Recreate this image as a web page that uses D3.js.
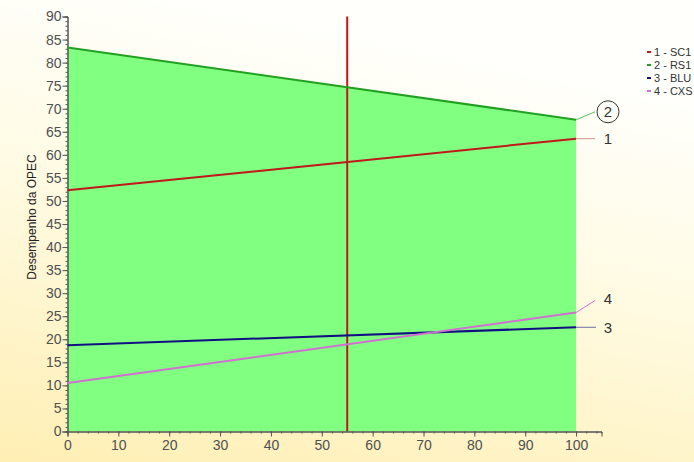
<!DOCTYPE html>
<html lang="en">
<head>
<meta charset="UTF-8">
<title>Desempenho da OPEC</title>
<script src="https://d3js.org/d3.v7.min.js"></script>
<style>
    body { margin: 0; background: #fff; }
    svg { display: block; font-family: Arial, "Liberation Sans", sans-serif; }
</style>
</head>
<body>
<div id="chart"></div>
<script>
    // data
    const xVals = [0, 100];
    const series = [
        { id: "1", name: "SC1", values: [52.3, 63.5], color: "#c01818", leader: "#d09090" },
        { id: "2", name: "RS1", values: [83.3, 67.6], color: "#22a022", leader: "#60c060" },
        { id: "3", name: "BLU", values: [18.7, 22.6], color: "#101080", leader: "#7070a0" },
        { id: "4", name: "CXS", values: [10.5, 25.8], color: "#d070d0", leader: "#d070d0" }
    ];
    const markerX = 55;
    const yTicks = d3.range(0, 91, 5);
    const xTicks = d3.range(0, 101, 10);

    const width = 694, height = 462;
    const svg = d3.select("#chart").append("svg")
        .attr("width", width).attr("height", height);

    const defs = svg.append("defs");
    const grad = defs.append("linearGradient").attr("id", "bg")
        .attr("x1", 0.3).attr("y1", 0).attr("x2", 0).attr("y2", 1);
    grad.append("stop").attr("offset", "0%").attr("stop-color", "#fffffc");
    grad.append("stop").attr("offset", "40%").attr("stop-color", "#fffbe4");
    grad.append("stop").attr("offset", "100%").attr("stop-color", "#ffefb4");
    svg.append("rect").attr("width", width).attr("height", height).attr("fill", "url(#bg)");

    const x = d3.scaleLinear().domain([0, 105]).range([67.5, 601.5]);
    const y = d3.scaleLinear().domain([0, 90]).range([431.5, 16.5]);

    // green area under RS1
    const rs1 = series[1];
    const area = d3.area().x((d, i) => x(xVals[i])).y0(y(0)).y1(d => y(d));
    svg.append("path").datum(rs1.values).attr("d", area).attr("fill", "#80ff80");

    // marker line
    svg.append("line")
        .attr("x1", x(markerX)).attr("x2", x(markerX))
        .attr("y1", y(90)).attr("y2", y(0))
        .attr("stroke", "#c01818").attr("stroke-width", 2);

    // axes
    const gray = "#555";
    const yAxis = svg.append("g").attr("transform", `translate(${x(0)},0)`);
    yAxis.call(d3.axisLeft(y).tickValues(d3.range(0, 91, 1)).tickSize(2).tickFormat(""));
    yAxis.append("g").call(d3.axisLeft(y).tickValues(yTicks).tickSize(5).tickFormat(d3.format("d")));
    const xAxis = svg.append("g").attr("transform", `translate(0,${y(0)})`);
    xAxis.call(d3.axisBottom(x).tickValues(d3.range(0, 105, 2)).tickSize(2).tickFormat(""));
    xAxis.append("g").call(d3.axisBottom(x).tickValues(xTicks).tickSize(5).tickFormat(d3.format("d")));
    svg.selectAll(".domain").attr("stroke", gray);
    svg.selectAll(".tick line").attr("stroke", gray);
    svg.selectAll(".tick text").attr("fill", "#505050").attr("font-size", 14)
        .attr("font-family", "Arial, 'Liberation Sans', sans-serif");
    yAxis.selectAll(".tick text").attr("x", -6);
    xAxis.selectAll(".tick text").attr("y", 9);

    // series lines
    const line = d3.line().x((d, i) => x(xVals[i])).y(d => y(d));
    series.forEach(s => {
        svg.append("path").datum(s.values).attr("d", line)
            .attr("fill", "none").attr("stroke", s.color).attr("stroke-width", 2);
    });

    // end labels with leader lines (offsets in pixels)
    const labelPos = { "1": [595, 0], "2": [595, -8], "3": [596, 0], "4": [595, -12] };
    series.forEach(s => {
        const ex = x(100), ey = y(s.values[1]);
        const [lx, dy] = labelPos[s.id];
        svg.append("line").attr("x1", ex).attr("y1", ey).attr("x2", lx).attr("y2", ey + dy)
            .attr("stroke", s.leader).attr("stroke-width", 1);
        const tx = 608, ty = ey + dy + (s.id === "4" ? -2 : 0);
        if (s.id === "2") {
            svg.append("circle").attr("cx", tx).attr("cy", ty).attr("r", 11)
                .attr("fill", "#fffffa").attr("stroke", "#333");
        }
        svg.append("text").attr("x", tx).attr("y", ty).attr("dy", "0.36em")
            .attr("text-anchor", "middle").attr("font-size", 15).attr("fill", "#333")
            .text(s.id);
    });

    // y label
    svg.append("text")
        .attr("transform", `translate(36,217) rotate(-90)`)
        .attr("text-anchor", "middle").attr("font-size", 12).attr("fill", "#222")
        .text("Desempenho da OPEC");

    // legend
    const legend = svg.append("g").attr("transform", "translate(647,52)");
    series.forEach((s, i) => {
        const g = legend.append("g").attr("transform", `translate(0,${i * 13})`);
        g.append("line").attr("x1", 0).attr("x2", 4).attr("stroke", s.color).attr("stroke-width", 2);
        g.append("text").attr("x", 7).attr("dy", "0.35em").attr("font-size", 11)
            .attr("fill", "#333").text(`${s.id} - ${s.name}`);
    });
</script>
</body>
</html>
